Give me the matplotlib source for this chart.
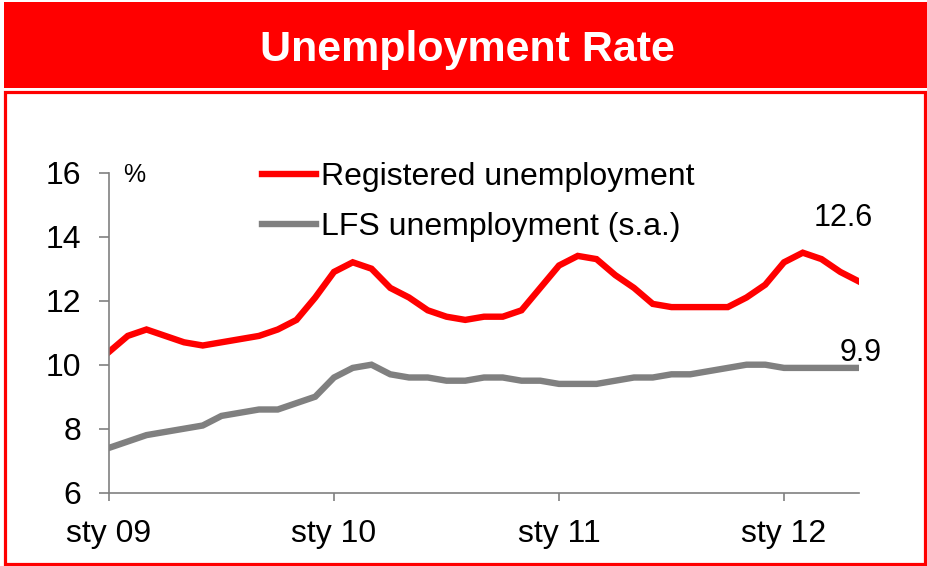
import numpy as np
import matplotlib.pyplot as plt
from matplotlib.patches import Rectangle
from matplotlib.lines import Line2D

plt.rcParams['font.family'] = ['Liberation Sans', 'DejaVu Sans']

# monthly data, Jan 2009 - May 2012
registered = [10.4, 10.9, 11.1, 10.9, 10.7, 10.6, 10.7, 10.8, 10.9, 11.1, 11.4, 12.1,
              12.9, 13.2, 13.0, 12.4, 12.1, 11.7, 11.5, 11.4, 11.5, 11.5, 11.7, 12.4,
              13.1, 13.4, 13.3, 12.8, 12.4, 11.9, 11.8, 11.8, 11.8, 11.8, 12.1, 12.5,
              13.2, 13.5, 13.3, 12.9, 12.6]
lfs = [7.4, 7.6, 7.8, 7.9, 8.0, 8.1, 8.4, 8.5, 8.6, 8.6, 8.8, 9.0,
       9.6, 9.9, 10.0, 9.7, 9.6, 9.6, 9.5, 9.5, 9.6, 9.6, 9.5, 9.5,
       9.4, 9.4, 9.4, 9.5, 9.6, 9.6, 9.7, 9.7, 9.8, 9.9, 10.0, 10.0,
       9.9, 9.9, 9.9, 9.9, 9.9]
year_ticks = [0, 12, 24, 36]
year_labels = ['sty 09', 'sty 10', 'sty 11', 'sty 12']

W, H = 927, 566
fig = plt.figure(figsize=(W / 100, H / 100), dpi=100)

def fx(px):
    return px / W

def fy(py):
    return 1 - py / H

# red title bar and frame
fig.patches.append(Rectangle((fx(4), fy(88)), fx(923), 86 / H, transform=fig.transFigure,
                             facecolor='#ff0000', edgecolor='none'))
fig.patches.append(Rectangle((fx(4.5), fy(563.5)), fx(920.5), 472 / H, transform=fig.transFigure,
                             facecolor='none', edgecolor='#ff0000', linewidth=2.3))
fig.text(fx(467), fy(61), 'Unemployment Rate', color='white', fontsize=31,
         fontweight='bold', ha='center', va='baseline')

ax = fig.add_axes([fx(109), fy(492.7), fx(750), 320 / H])
x = np.arange(len(registered))
ax.plot(x, registered, color='#ff0000', lw=4.6, solid_joinstyle='miter')
ax.plot(x, lfs, color='#808080', lw=4.6, solid_joinstyle='miter')

ax.set_xlim(0, 40)
ax.set_ylim(6, 16)
ax.set_yticks([6, 8, 10, 12, 14, 16])
ax.set_xticks(year_ticks)
ax.set_xticklabels(year_labels)

for s in ['top', 'right']:
    ax.spines[s].set_visible(False)
for s in ['left', 'bottom']:
    ax.spines[s].set_color('#808080')
    ax.spines[s].set_linewidth(1.2)
ax.tick_params(axis='y', direction='out', length=7, width=1.2, color='#808080',
               labelsize=23, pad=13)
ax.tick_params(axis='x', direction='out', length=6, width=1.2, color='#808080',
               labelsize=23, pad=13)

fig.text(fx(134), fy(175), '%', fontsize=18, ha='center', va='center')

# value labels at the last month
ax.annotate(f'{registered[-1]:.1f}', (x[-1], registered[-1]), xytext=(-11.5, 46),
            textcoords='offset points', ha='center', va='center', fontsize=22)
ax.annotate(f'{lfs[-1]:.1f}', (x[-1], lfs[-1]), xytext=(1, 10.5),
            textcoords='offset points', ha='center', va='center', fontsize=22)

handles = [Line2D([], [], color='#ff0000', lw=4.6),
           Line2D([], [], color='#808080', lw=4.6)]
ax.legend(handles, ['Registered unemployment', 'LFS unemployment (s.a.)'],
          loc='upper left', bbox_to_anchor=(fx(262), fy(162)), bbox_transform=fig.transFigure,
          frameon=False, fontsize=23, handlelength=1.68, handletextpad=0.17,
          labelspacing=0.62, borderpad=0, borderaxespad=0)

fig.savefig('out.png', dpi=100)
